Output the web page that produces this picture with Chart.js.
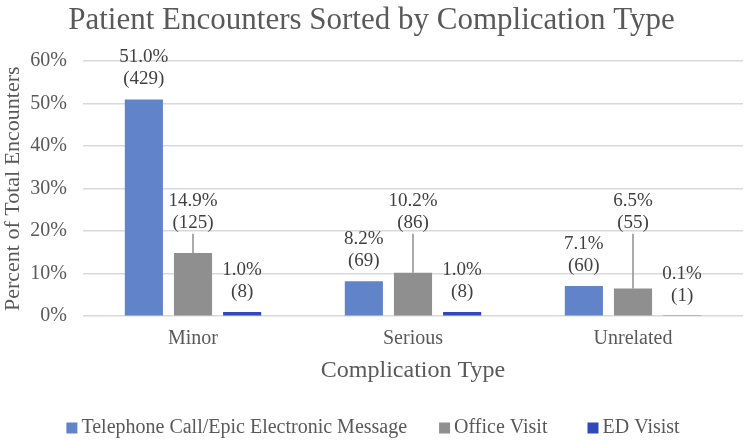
<!DOCTYPE html>
<html>
<head>
<meta charset="utf-8">
<script src="https://cdn.jsdelivr.net/npm/chart.js@4/dist/chart.umd.min.js"></script>
<style>
    html, body { margin: 0; padding: 0; background: #ffffff; }
    #wrap { width: 746px; height: 440px; position: relative; }
</style>
</head>
<body>
<div id="wrap"><canvas id="encounterChart"></canvas></div>
<script>

/* =========================
   DATA
========================= */

const categories = ['Minor', 'Serious', 'Unrelated'];

const seriesNames = ['Telephone Call/Epic Electronic Message', 'Office Visit', 'ED Visist'];

const telephonePct = [51.0, 8.2, 7.1];
const officePct = [14.9, 10.2, 6.5];
const edPct = [1.0, 1.0, 0.1];

const telephoneCount = [429, 69, 60];
const officeCount = [125, 86, 55];
const edCount = [8, 8, 1];

const yTicks = [0, 10, 20, 30, 40, 50, 60];

/* =========================
   STYLE
========================= */

const serif = "'Liberation Serif', 'Times New Roman', serif";
const textGray = '#595959';
const labelGray = '#404040';
const colors = ['#6183CA', '#8F8F8F', '#3049BA'];

Chart.defaults.font.family = serif;
Chart.defaults.color = textGray;

// office visit labels were dragged up in the original, sit at this axis level
const officeLabelLevel = 22;

const counts = [telephoneCount, officeCount, edCount];

/* =========================
   DATA LABELS PLUGIN
========================= */

const barLabels = {
    id: 'barLabels',
    afterDatasetsDraw(chart){

        const ctx = chart.ctx;
        const yScale = chart.scales.y;

        ctx.save();
        ctx.font = '19px ' + serif;
        ctx.fillStyle = labelGray;
        ctx.textAlign = 'center';
        ctx.textBaseline = 'middle';

        chart.data.datasets.forEach((ds, di) => {

            const meta = chart.getDatasetMeta(di);

            meta.data.forEach((bar, i) => {

                const pct = ds.data[i].toFixed(1) + '%';
                const cnt = '(' + counts[di][i] + ')';

                let y2 = bar.y - 20;

                if(di === 1){
                    y2 = yScale.getPixelForValue(officeLabelLevel);

                    ctx.save();
                    ctx.strokeStyle = '#8F8F8F';
                    ctx.lineWidth = 1.5;
                    ctx.beginPath();
                    ctx.moveTo(bar.x, y2 + 11);
                    ctx.lineTo(bar.x, bar.y);
                    ctx.stroke();
                    ctx.restore();
                }

                ctx.fillText(pct, bar.x, y2 - 22);
                ctx.fillText(cnt, bar.x, y2);

            });
        });

        ctx.restore();
    }
};

/* =========================
   LEGEND PLUGIN
   (Excel-style: small square, tight text, wide item gaps)
========================= */

const bottomLegend = {
    id: 'bottomLegend',
    afterDraw(chart){

        const ctx = chart.ctx;
        const box = 11;
        const textGap = 4;
        const itemGaps = [32, 40];
        const yMid = 428;

        ctx.save();
        ctx.font = '20px ' + serif;
        ctx.textBaseline = 'middle';
        ctx.textAlign = 'left';

        const items = chart.data.datasets.map(ds => ({
            text: ds.label,
            color: ds.backgroundColor,
            w: box + textGap + ctx.measureText(ds.label).width
        }));

        const total = items.reduce((s, it) => s + it.w, 0) + itemGaps[0] + itemGaps[1];
        let x = (chart.width - total) / 2;

        items.forEach((it, i) => {
            ctx.fillStyle = it.color;
            ctx.fillRect(x, yMid - box / 2, box, box);
            ctx.fillStyle = textGray;
            ctx.fillText(it.text, x + box + textGap, yMid);
            x += it.w + (itemGaps[i] || 0);
        });

        ctx.restore();
    }
};

/* =========================
   CHART
========================= */

const datasets = [telephonePct, officePct, edPct].map((values, i) => ({
    label: seriesNames[i],
    data: values,
    backgroundColor: colors[i],
    borderWidth: 0,
    barPercentage: 0.776,
    categoryPercentage: 0.67
}));

new Chart(document.getElementById('encounterChart'), {

    type: 'bar',

    data: {
        labels: categories,
        datasets: datasets
    },

    options: {

        responsive: true,
        maintainAspectRatio: false,
        animation: false,

        layout: {
            padding: { left: 0, right: 3, top: 0, bottom: 55 }
        },

        plugins: {

            title: {
                display: true,
                text: 'Patient Encounters Sorted by Complication Type',
                color: textGray,
                font: { family: serif, size: 31, weight: 'normal' },
                padding: { top: 2, bottom: 22 }
            },

            legend: { display: false },

            tooltip: { enabled: false }
        },

        scales: {

            x: {
                grid: { display: false, drawTicks: false },
                border: { display: false },
                ticks: {
                    color: textGray,
                    font: { family: serif, size: 20 },
                    padding: 11
                },
                title: {
                    display: true,
                    text: 'Complication Type',
                    color: textGray,
                    font: { family: serif, size: 24 },
                    padding: { top: -6, bottom: 0 }
                }
            },

            y: {
                min: 0,
                max: 60,
                afterBuildTicks(scale){
                    scale.ticks = yTicks.map(v => ({ value: v }));
                },
                afterFit(scale){
                    scale.width = 83;
                },
                grid: {
                    color: '#D9D9D9',
                    lineWidth: 1.5,
                    drawTicks: false
                },
                border: { display: false },
                ticks: {
                    color: textGray,
                    font: { family: serif, size: 20 },
                    padding: 16,
                    callback: v => v + '%'
                },
                title: {
                    display: true,
                    text: 'Percent of Total Encounters',
                    color: textGray,
                    font: { family: serif, size: 22 },
                    padding: { top: 0, bottom: 0 }
                }
            }
        }
    },

    plugins: [barLabels, bottomLegend]

});

</script>
</body>
</html>
